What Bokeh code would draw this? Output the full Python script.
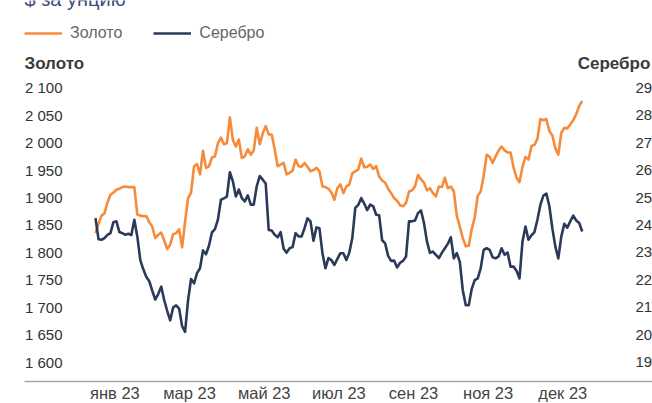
from bokeh.plotting import figure
from bokeh.models import Range1d, LinearAxis, FixedTicker, Legend, LegendItem, Label
from bokeh.embed import file_html
from bokeh.resources import INLINE

# ---- data ----
months = ["янв 23", "мар 23", "май 23", "июл 23", "сен 23", "ноя 23", "дек 23"]

gold = [
    1835, 1852, 1867, 1871, 1891, 1905, 1909, 1914, 1916, 1919,
    1920, 1919, 1919, 1919, 1869, 1867, 1866, 1866, 1855, 1847,
    1826, 1832, 1836, 1822, 1806, 1814, 1833, 1835, 1842, 1809,
    1856, 1899, 1909, 1957, 1961, 1942, 1985, 1954, 1957, 1973,
    1975, 1999, 2009, 1997, 1999, 2046, 2005, 1993, 2006, 1972,
    1975, 1988, 1978, 1986, 2027, 1997, 2017, 2030, 2015, 2015,
    1988, 1957, 1960, 1963, 1942, 1945, 1949, 1969, 1957, 1956,
    1963, 1956, 1948, 1950, 1954, 1948, 1920, 1919, 1916, 1909,
    1896, 1917,
    1924, 1908, 1920, 1924, 1944, 1948, 1951, 1971, 1955, 1956,
    1960, 1952, 1957, 1938, 1931, 1927, 1916, 1908, 1899, 1894,
    1886, 1884, 1890, 1911, 1913, 1920, 1941, 1933, 1927, 1913,
    1917, 1908, 1902, 1920, 1919, 1936, 1917, 1920, 1911, 1867,
    1847, 1826,
    1811, 1812, 1842, 1864, 1903, 1911, 1939, 1978, 1974, 1963,
    1975, 1986, 1993, 1986, 1982, 1982, 1955, 1936, 1928, 1956,
    1974, 1969, 1994, 1996, 2007, 2043, 2041, 2043, 2021, 2013,
    1990, 1978, 2018, 2027, 2026, 2033, 2041, 2052, 2067, 2076,
]

silver = [
    24.25, 23.48, 23.46, 23.52, 23.64, 23.70, 24.10, 24.13, 23.74, 23.70,
    23.64, 23.68, 23.63, 24.19, 23.58, 22.72, 22.38, 22.11, 21.95, 21.60,
    21.28, 21.48, 21.75, 21.26, 20.87, 20.52, 20.99, 21.07, 20.95, 20.31,
    20.10, 21.26, 22.03, 21.87, 22.24, 22.42, 23.07, 22.93, 23.24, 23.73,
    23.85, 24.19, 24.92, 24.97, 25.03, 25.92, 25.59, 25.04, 25.29, 24.98,
    24.86, 25.08, 24.74, 24.74, 25.41, 25.78, 25.65, 25.51, 23.82, 23.80,
    23.64, 23.55, 23.74, 23.13, 22.99, 23.15, 23.19, 23.70, 23.58, 23.58,
    23.88, 24.24, 24.13, 23.42, 23.91, 23.88, 22.97, 22.42, 22.79, 22.72,
    22.54, 22.76,
    22.97, 22.97, 22.72, 22.99, 23.52, 24.62, 24.73, 24.98, 24.78, 24.54,
    24.74, 24.68, 24.37, 24.35, 23.44, 23.33, 22.87, 22.69, 22.70, 22.45,
    22.62, 22.69, 22.85, 24.13, 24.13, 24.16, 24.43, 24.53, 24.07, 23.40,
    22.98, 23.03, 22.91, 22.79, 22.98, 23.15, 23.31, 23.55, 22.78, 22.97,
    22.66, 21.62,
    21.07, 21.07, 21.67, 21.99, 22.05, 22.42, 23.09, 23.15, 23.09, 22.82,
    22.78, 22.85, 23.15, 22.91, 22.99, 22.48, 22.48, 22.33, 22.05, 23.40,
    23.94, 23.46, 23.62, 23.74, 24.19, 24.74, 25.07, 25.14, 24.68, 23.88,
    23.21, 22.78, 23.58, 24.04, 23.90, 24.13, 24.34, 24.16, 24.07, 23.76,
]

gold_ticks = [1600, 1650, 1700, 1750, 1800, 1850, 1900, 1950, 2000, 2050, 2100]
gold_tick_labels = ["1 600", "1 650", "1 700", "1 750", "1 800", "1 850",
                    "1 900", "1 950", "2 000", "2 050", "2 100"]
silver_ticks = [19, 20, 21, 22, 23, 24, 25, 26, 27, 28, 29]
silver_tick_labels = ["19", "20", "21", "22", "23", "24", "25", "26", "27", "28", "29"]

series_names = ["Золото", "Серебро"]
unit_title = "$ за унцию"

# ---- layout / style ----
x = list(range(len(gold)))
month_ticks = [6.5 + 25 * k for k in range(len(months))]

FONT = "Liberation Sans"
GOLD_C = "#F68B3C"
SILV_C = "#2C3A5A"

X0, X1 = -31.82, 186.54          # x range over the whole canvas
G0, G1 = 1524.4, 2259.2          # gold range over the whole canvas
S0, S1 = 17.489, 32.183          # silver range over the whole canvas

p = figure(width=652, height=403, output_backend="svg", toolbar_location=None,
           x_range=Range1d(X0, X1), y_range=Range1d(G0, G1), min_border=0)
p.extra_y_ranges = {"silver": Range1d(S0, S1)}
p.outline_line_color = None
p.grid.visible = False
p.background_fill_color = "white"
p.border_fill_color = "white"

r_gold = p.line(x, gold, line_color=GOLD_C, line_width=2.6, line_join="round")
r_silv = p.line(x, silver, line_color=SILV_C, line_width=2.6, line_join="round",
                y_range_name="silver")

# left axis (gold)
ya = p.yaxis[0]
ya.fixed_location = -9.72
ya.ticker = FixedTicker(ticks=gold_ticks)
ya.major_label_overrides = {t: l for t, l in zip(gold_ticks, gold_tick_labels)}
ya.axis_line_color = None
ya.major_tick_line_color = None
ya.minor_tick_line_color = None
ya.major_tick_out = 0
ya.major_tick_in = 0
ya.major_label_standoff = 4
ya.major_label_text_font = FONT
ya.major_label_text_font_size = "15px"
ya.major_label_text_color = "#333333"

# right axis (silver)
ra = LinearAxis(y_range_name="silver", ticker=FixedTicker(ticks=silver_ticks))
ra.fixed_location = 179.5
ra.major_label_overrides = {t: l for t, l in zip(silver_ticks, silver_tick_labels)}
ra.axis_line_color = None
ra.major_tick_line_color = None
ra.minor_tick_line_color = None
ra.major_tick_out = 0
ra.major_tick_in = 0
ra.major_label_standoff = 4
ra.major_label_text_font = FONT
ra.major_label_text_font_size = "15px"
ra.major_label_text_color = "#333333"
p.add_layout(ra, "right")

# bottom axis
xa = p.xaxis[0]
xa.fixed_location = 1565.1
xa.bounds = (-23.78, X1)
xa.ticker = FixedTicker(ticks=month_ticks)
xa.major_label_overrides = {t: m for t, m in zip(month_ticks, months)}
xa.axis_line_color = "#a6a6a6"
xa.axis_line_width = 1.5
xa.major_tick_line_color = None
xa.minor_tick_line_color = None
xa.major_tick_out = 0
xa.major_tick_in = 0
xa.major_label_standoff = 3
xa.major_label_text_font = FONT
xa.major_label_text_font_size = "16.5px"
xa.major_label_text_color = "#444444"

# legend
legend = Legend(items=[LegendItem(label=series_names[0], renderers=[r_gold]),
                       LegendItem(label=series_names[1], renderers=[r_silv])],
                location=(24, 361), orientation="horizontal",
                glyph_width=38, glyph_height=18, label_height=18,
                label_standoff=8, spacing=31, padding=0, margin=0,
                border_line_color=None, background_fill_alpha=0,
                label_text_font=FONT, label_text_font_size="16px",
                label_text_color="#666666")
p.add_layout(legend)

# titles
p.add_layout(Label(x=-23.78, y=2242.4, text=unit_title, text_font=FONT,
                   text_font_size="20px", text_color="#3d4c7c",
                   text_align="left", text_baseline="bottom"))
p.add_layout(Label(x=-23.78, y=2144.3, text=series_names[0], text_font=FONT,
                   text_font_size="17px", text_font_style="bold",
                   text_color="#3a3a3a", text_align="left", text_baseline="middle"))
p.add_layout(Label(x=185.8, y=2144.3, text=series_names[1], text_font=FONT,
                   text_font_size="17px", text_font_style="bold",
                   text_color="#3a3a3a", text_align="right", text_baseline="middle"))

open("out.html", "w").write(file_html(p, INLINE))
